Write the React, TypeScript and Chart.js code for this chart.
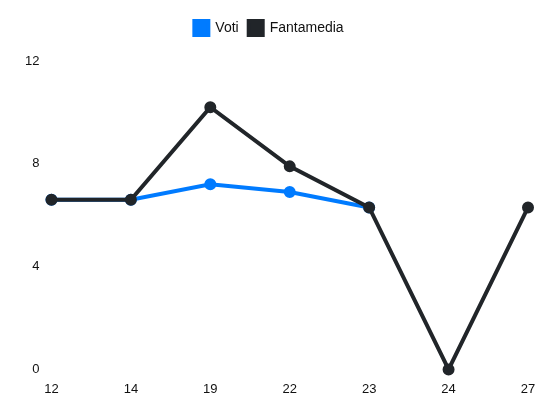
import React, { useEffect, useRef } from "react";
import Chart from "chart.js/auto";

const giornate: string[] = ["12", "14", "19", "22", "23", "24", "27"];
const voti: (number | null)[] = [6.6, 6.6, 7.2, 6.9, 6.3, null, null];
const fantamedia: number[] = [6.6, 6.6, 10.2, 7.9, 6.3, 0, 6.3];
const yTicks: number[] = [0, 4, 8, 12];

// extra space under the legend
const legendMargin = {
  id: "legendMargin",
  beforeInit(chart: any) {
    const fit = chart.legend.fit;
    chart.legend.fit = function () {
      fit.bind(chart.legend)();
      this.height += 16;
    };
  },
};

const App: React.FC = () => {
  const chartRef = useRef<HTMLCanvasElement | null>(null);
  const chartInstance = useRef<Chart | null>(null);

  useEffect(() => {
    if (!chartRef.current) return;
    if (chartInstance.current) chartInstance.current.destroy();
    const ctx = chartRef.current.getContext("2d");
    if (!ctx) return;

    Chart.defaults.font.family = "'Liberation Sans', Arial, sans-serif";
    Chart.defaults.font.size = 13;
    Chart.defaults.color = "#111";

    chartInstance.current = new Chart(ctx, {
      type: "line",
      data: {
        labels: giornate,
        datasets: [
          {
            label: "Voti",
            data: voti,
            borderColor: "#007bff",
            backgroundColor: "#007bff",
            borderWidth: 4,
            pointRadius: 4,
            pointHoverRadius: 4,
            fill: false,
            tension: 0,
            clip: false,
            order: 1,
          },
          {
            label: "Fantamedia",
            data: fantamedia,
            borderColor: "#212529",
            backgroundColor: "#212529",
            borderWidth: 4,
            pointRadius: 4,
            pointHoverRadius: 4,
            fill: false,
            tension: 0,
            clip: false,
            order: 0,
          },
        ],
      },
      plugins: [legendMargin],
      options: {
        animation: false,
        responsive: true,
        maintainAspectRatio: false,
        layout: { padding: { left: 10, right: 22, top: 11, bottom: 11 } },
        plugins: {
          legend: {
            labels: {
              boxWidth: 14,
              boxHeight: 14,
              padding: 10,
              font: { size: 14 },
              sort: (a, b) => (a.datasetIndex ?? 0) - (b.datasetIndex ?? 0),
            },
          },
          tooltip: { enabled: false },
        },
        scales: {
          x: {
            grid: { display: false },
            border: { display: false },
            ticks: { padding: 4 },
          },
          y: {
            min: 0,
            max: 12,
            afterBuildTicks: (axis) => {
              axis.ticks = yTicks.map((v) => ({ value: v }));
            },
            afterFit: (axis) => {
              axis.width += 11;
            },
            grid: { display: false },
            border: { display: false },
            ticks: { padding: 4 },
          },
        },
      },
    });

    return () => {
      if (chartInstance.current) {
        chartInstance.current.destroy();
        chartInstance.current = null;
      }
    };
  }, []);

  return (
    <div style={{ position: "fixed", left: 0, top: 0, width: 550, height: 412 }}>
      <canvas ref={chartRef} />
    </div>
  );
};

export default App;
